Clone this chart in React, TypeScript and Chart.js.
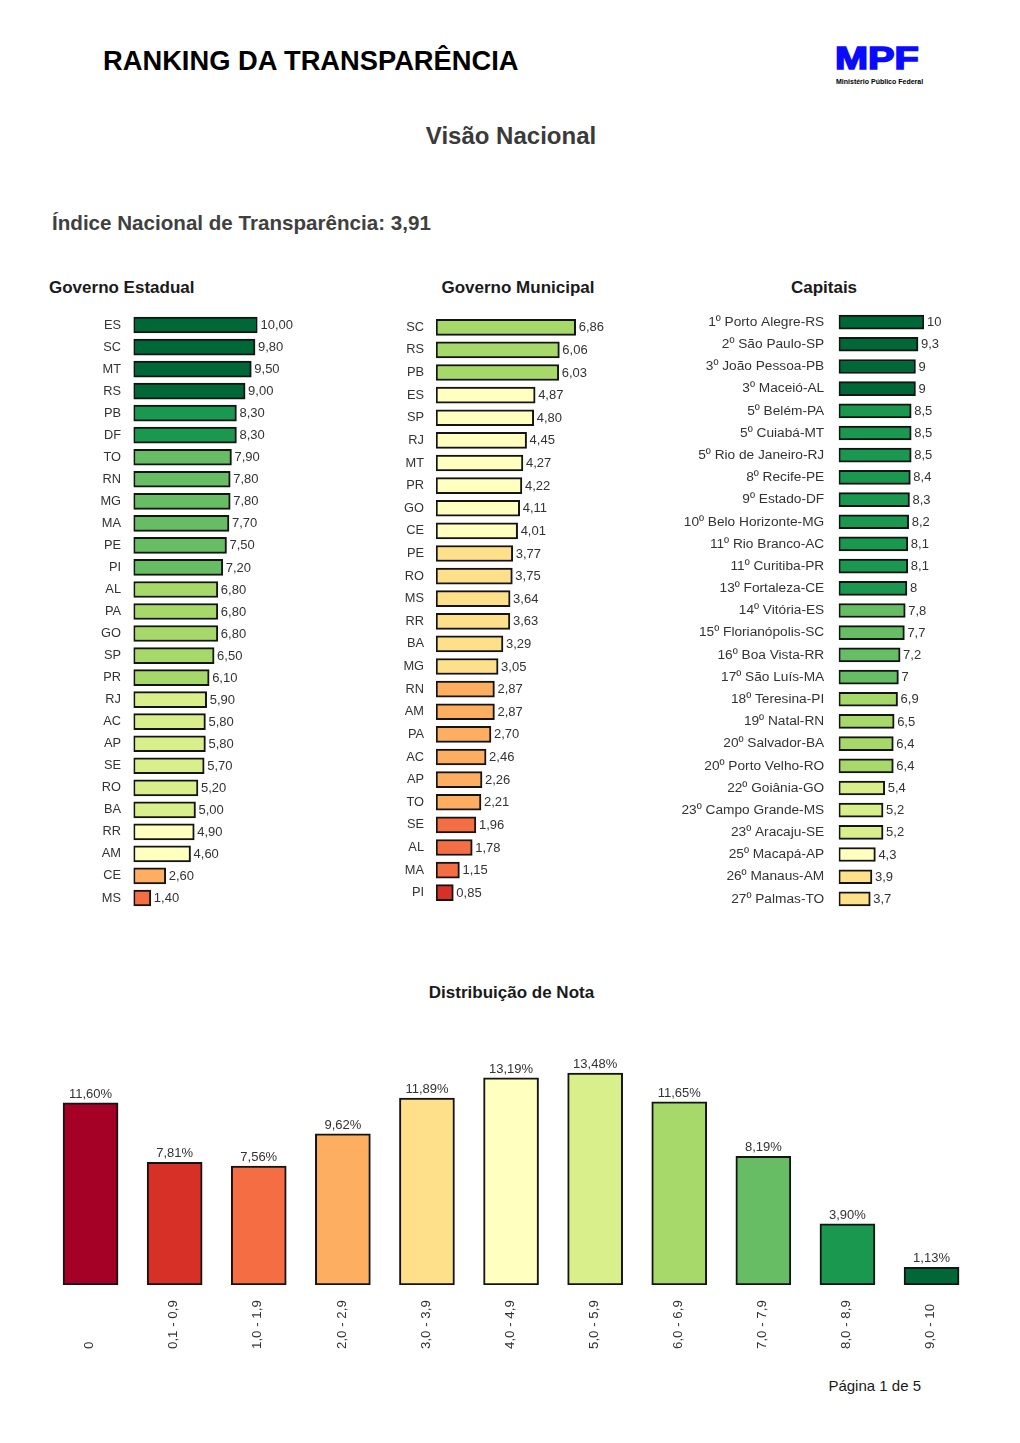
import React, { useEffect, useRef } from 'react';
import { Chart, registerables } from 'chart.js';

Chart.register(...registerables);

const FONT = "'Liberation Sans', Arial, Helvetica, sans-serif";
Chart.defaults.font.family = FONT;
Chart.defaults.color = '#333333';

const PALETTE = ['#a50026', '#d73027', '#f46d43', '#fdae61', '#fee08b', '#ffffbf', '#d9ef8b', '#a6d96a', '#66bd63', '#1a9850', '#006837'];

const estadualLabels = ['ES', 'SC', 'MT', 'RS', 'PB', 'DF', 'TO', 'RN', 'MG', 'MA', 'PE', 'PI', 'AL', 'PA', 'GO', 'SP', 'PR', 'RJ', 'AC', 'AP', 'SE', 'RO', 'BA', 'RR', 'AM', 'CE', 'MS'];
const estadualValues = [10.0, 9.8, 9.5, 9.0, 8.3, 8.3, 7.9, 7.8, 7.8, 7.7, 7.5, 7.2, 6.8, 6.8, 6.8, 6.5, 6.1, 5.9, 5.8, 5.8, 5.7, 5.2, 5.0, 4.9, 4.6, 2.6, 1.4];

const municipalLabels = ['SC', 'RS', 'PB', 'ES', 'SP', 'RJ', 'MT', 'PR', 'GO', 'CE', 'PE', 'RO', 'MS', 'RR', 'BA', 'MG', 'RN', 'AM', 'PA', 'AC', 'AP', 'TO', 'SE', 'AL', 'MA', 'PI'];
const municipalValues = [6.86, 6.06, 6.03, 4.87, 4.8, 4.45, 4.27, 4.22, 4.11, 4.01, 3.77, 3.75, 3.64, 3.63, 3.29, 3.05, 2.87, 2.87, 2.7, 2.46, 2.26, 2.21, 1.96, 1.78, 1.15, 0.85];

const capitaisLabels = [
  '1º Porto Alegre-RS', '2º São Paulo-SP', '3º João Pessoa-PB', '3º Maceió-AL', '5º Belém-PA', '5º Cuiabá-MT',
  '5º Rio de Janeiro-RJ', '8º Recife-PE', '9º Estado-DF', '10º Belo Horizonte-MG', '11º Rio Branco-AC', '11º Curitiba-PR',
  '13º Fortaleza-CE', '14º Vitória-ES', '15º Florianópolis-SC', '16º Boa Vista-RR', '17º São Luís-MA', '18º Teresina-PI',
  '19º Natal-RN', '20º Salvador-BA', '20º Porto Velho-RO', '22º Goiânia-GO', '23º Campo Grande-MS', '23º Aracaju-SE',
  '25º Macapá-AP', '26º Manaus-AM', '27º Palmas-TO',
];
const capitaisValues = [10, 9.3, 9, 9, 8.5, 8.5, 8.5, 8.4, 8.3, 8.2, 8.1, 8.1, 8, 7.8, 7.7, 7.2, 7, 6.9, 6.5, 6.4, 6.4, 5.4, 5.2, 5.2, 4.3, 3.9, 3.7];

const distLabels = ['0', '0,1 - 0,9', '1,0 - 1,9', '2,0 - 2,9', '3,0 - 3,9', '4,0 - 4,9', '5,0 - 5,9', '6,0 - 6,9', '7,0 - 7,9', '8,0 - 8,9', '9,0 - 10'];
const distValues = [11.6, 7.81, 7.56, 9.62, 11.89, 13.19, 13.48, 11.65, 8.19, 3.9, 1.13];

function binColor(v: number): string {
  if (v <= 0) return PALETTE[0];
  if (v < 1) return PALETTE[1];
  return PALETTE[Math.min(10, Math.floor(v + 1e-9) + 1)];
}

const fmt2 = (v: number) => v.toFixed(2).replace('.', ',');
const fmtPlain = (v: number) => String(v).replace('.', ',');

type HBarProps = {
  labels: string[];
  values: number[];
  fmt: (v: number) => string;
  left: number;
  top: number;
  width: number;
  height: number;
  axisWidth: number;
  max: number;
  padRight: number;
  thickness: number;
  labelSize: number;
  labelPadding: number;
};

function HBar(p: HBarProps) {
  const ref = useRef<HTMLCanvasElement>(null);
  useEffect(() => {
    const valuePlugin = {
      id: 'valueLabels',
      afterDatasetsDraw(chart: any) {
        const ctx = chart.ctx;
        const meta = chart.getDatasetMeta(0);
        ctx.save();
        ctx.font = `13px ${FONT}`;
        ctx.fillStyle = '#333333';
        ctx.textAlign = 'left';
        ctx.textBaseline = 'middle';
        meta.data.forEach((bar: any, i: number) => {
          ctx.fillText(p.fmt(p.values[i]), bar.x + 3, bar.y + 0.5);
        });
        ctx.restore();
      },
    };
    const chart = new Chart(ref.current as HTMLCanvasElement, {
      type: 'bar',
      data: {
        labels: p.labels,
        datasets: [
          {
            data: p.values,
            backgroundColor: p.values.map(binColor),
            borderColor: '#141414',
            borderWidth: 2,
            borderSkipped: false,
            barThickness: p.thickness,
          } as any,
        ],
      },
      options: {
        indexAxis: 'y',
        responsive: false,
        maintainAspectRatio: false,
        animation: false,
        layout: { padding: { left: 0, right: p.padRight, top: 0, bottom: 0 } },
        plugins: { legend: { display: false }, tooltip: { enabled: false } },
        scales: {
          x: { display: false, min: 0, max: p.max },
          y: {
            grid: { display: false, drawTicks: false },
            border: { display: false },
            ticks: { autoSkip: false, padding: p.labelPadding, color: '#333333', font: { size: p.labelSize } },
            afterFit: (s: any) => {
              s.width = p.axisWidth;
              s.paddingTop = 0;
              s.paddingBottom = 0;
            },
          },
        },
      } as any,
      plugins: [valuePlugin],
    });
    return () => chart.destroy();
  }, []);
  return (
    <canvas
      ref={ref}
      width={p.width}
      height={p.height}
      style={{ position: 'absolute', left: p.left, top: p.top, width: p.width, height: p.height }}
    />
  );
}

function DistChart() {
  const ref = useRef<HTMLCanvasElement>(null);
  useEffect(() => {
    const labelPlugin = {
      id: 'distLabels',
      afterDatasetsDraw(chart: any) {
        const ctx = chart.ctx;
        const meta = chart.getDatasetMeta(0);
        const xs = chart.scales.x;
        ctx.save();
        ctx.font = `13px ${FONT}`;
        ctx.fillStyle = '#333333';
        ctx.textAlign = 'center';
        ctx.textBaseline = 'alphabetic';
        meta.data.forEach((bar: any, i: number) => {
          ctx.fillText(distValues[i].toFixed(2).replace('.', ',') + '%', bar.x, bar.y - 5);
        });
        ctx.font = `13.3px ${FONT}`;
        ctx.textAlign = 'left';
        ctx.textBaseline = 'middle';
        distLabels.forEach((lab, i) => {
          const x = xs.getPixelForValue(i);
          ctx.save();
          ctx.translate(x - 1, chart.chartArea.bottom + 64);
          ctx.rotate(-Math.PI / 2);
          ctx.fillText(lab, 0, 0);
          ctx.restore();
        });
        ctx.restore();
      },
    };
    const chart = new Chart(ref.current as HTMLCanvasElement, {
      type: 'bar',
      data: {
        labels: distLabels,
        datasets: [
          {
            data: distValues,
            backgroundColor: PALETTE,
            borderColor: '#141414',
            borderWidth: 2,
            borderSkipped: false,
            barThickness: 55,
          } as any,
        ],
      },
      options: {
        responsive: false,
        maintainAspectRatio: false,
        animation: false,
        layout: { padding: { left: 48.5, right: 46.4, top: 35, bottom: 75 } },
        plugins: { legend: { display: false }, tooltip: { enabled: false } },
        scales: {
          x: { display: false },
          y: { display: false, min: 0, max: 14 },
        },
      } as any,
      plugins: [labelPlugin],
    });
    return () => chart.destroy();
  }, []);
  return (
    <canvas
      ref={ref}
      width={1020}
      height={330}
      style={{ position: 'absolute', left: 0, top: 1030, width: 1020, height: 330 }}
    />
  );
}

const abs = (extra: React.CSSProperties): React.CSSProperties => ({
  position: 'absolute',
  whiteSpace: 'nowrap',
  fontFamily: FONT,
  ...extra,
});

export default function App() {
  return (
    <div style={{ position: 'absolute', left: 0, top: 0, width: 1020, height: 1443, background: '#ffffff', overflow: 'hidden' }}>
      <div style={abs({ left: 103, top: 46.6, fontSize: 27.3, lineHeight: '27.3px', fontWeight: 700, color: '#000000' })}>
        RANKING DA TRANSPARÊNCIA
      </div>
      <div
        style={abs({
          left: 835,
          top: 42,
          fontSize: 32,
          lineHeight: '32px',
          fontWeight: 900,
          color: '#0a0aff',
          transform: 'scaleX(1.24)',
          transformOrigin: 'left top',
          WebkitTextStroke: '1.6px #0a0aff',
        } as any)}
      >
        MPF
      </div>
      <div style={abs({ left: 836, top: 77.5, fontSize: 7, lineHeight: '7px', fontWeight: 700, color: '#000000' })}>
        Ministério Público Federal
      </div>
      <div style={abs({ left: 511, top: 124, fontSize: 24, lineHeight: '24px', fontWeight: 700, color: '#3a3a3a', transform: 'translateX(-50%)' })}>
        Visão Nacional
      </div>
      <div style={abs({ left: 52, top: 212.8, fontSize: 20.6, lineHeight: '20.6px', fontWeight: 700, color: '#404040' })}>
        Índice Nacional de Transparência: 3,91
      </div>
      <div style={abs({ left: 49, top: 278.5, fontSize: 17, lineHeight: '17px', fontWeight: 700, color: '#1a1a1a' })}>
        Governo Estadual
      </div>
      <div style={abs({ left: 518, top: 278.5, fontSize: 17, lineHeight: '17px', fontWeight: 700, color: '#1a1a1a', transform: 'translateX(-50%)' })}>
        Governo Municipal
      </div>
      <div style={abs({ left: 824, top: 278.5, fontSize: 17, lineHeight: '17px', fontWeight: 700, color: '#1a1a1a', transform: 'translateX(-50%)' })}>
        Capitais
      </div>

      <HBar
        labels={estadualLabels}
        values={estadualValues}
        fmt={fmt2}
        left={50}
        top={313.5}
        width={260}
        height={595}
        axisWidth={83.5}
        max={10}
        padRight={52.5}
        thickness={16}
        labelSize={12.8}
        labelPadding={12.5}
      />
      <HBar
        labels={municipalLabels}
        values={municipalValues}
        fmt={fmt2}
        left={380}
        top={316}
        width={250}
        height={588}
        axisWidth={56}
        max={7}
        padRight={51.5}
        thickness={16}
        labelSize={12.8}
        labelPadding={12}
      />
      <HBar
        labels={capitaisLabels}
        values={capitaisValues}
        fmt={fmtPlain}
        left={670}
        top={311}
        width={294}
        height={599}
        axisWidth={168.7}
        max={10}
        padRight={40}
        thickness={14}
        labelSize={13.7}
        labelPadding={14.5}
      />

      <div style={abs({ left: 511.5, top: 983.5, fontSize: 17, lineHeight: '17px', fontWeight: 700, color: '#1a1a1a', transform: 'translateX(-50%)' })}>
        Distribuição de Nota
      </div>
      <DistChart />
      <div style={abs({ right: 1020 - 921, top: 1377.5, fontSize: 15, lineHeight: '15px', color: '#1a1a1a' })}>
        Página 1 de 5
      </div>
    </div>
  );
}
